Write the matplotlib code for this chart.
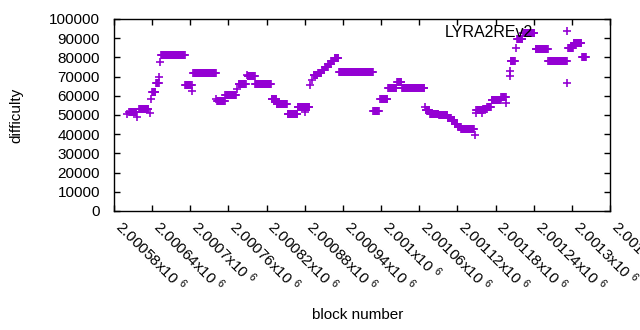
import numpy as np
import matplotlib
matplotlib.use('Agg')
import matplotlib.pyplot as plt

plt.rcParams['font.family'] = ['Liberation Sans', 'DejaVu Sans']
plt.rcParams['mathtext.fontset'] = 'custom'
plt.rcParams['mathtext.rm'] = 'Liberation Sans'
plt.rcParams['mathtext.it'] = 'Liberation Sans'

# Difficulty per block, stored as runs of equal difficulty (start block, end block, value)
run_start = [2000601, 2000604, 2000616, 2000620, 2000636, 2000638, 2000640, 2000646, 2000651, 2000653,
             2000654, 2000692, 2000703, 2000705, 2000741, 2000742, 2000755, 2000774, 2000776, 2000789,
             2000790, 2000802, 2000828, 2000836, 2000853, 2000869, 2000881, 2000889, 2000892, 2000894,
             2000901, 2000907, 2000912, 2000917, 2000922, 2000927, 2000934, 2000988, 2000999, 2001011,
             2001025, 2001033, 2001069, 2001070, 2001077, 2001091, 2001105, 2001111, 2001116, 2001121,
             2001126, 2001147, 2001149, 2001150, 2001158, 2001161, 2001167, 2001174, 2001189, 2001197,
             2001202, 2001203, 2001204, 2001212, 2001214, 2001223, 2001243, 2001263, 2001293, 2001294,
             2001303, 2001316]
run_end = [2000601, 2000615, 2000616, 2000634, 2000636, 2000638, 2000645, 2000650, 2000651, 2000653,
           2000691, 2000702, 2000703, 2000740, 2000741, 2000754, 2000772, 2000774, 2000787, 2000789,
           2000801, 2000827, 2000835, 2000852, 2000868, 2000887, 2000881, 2000889, 2000892, 2000900,
           2000906, 2000911, 2000916, 2000921, 2000926, 2000933, 2000987, 2000996, 2001010, 2001024,
           2001032, 2001068, 2001069, 2001076, 2001090, 2001104, 2001110, 2001115, 2001120, 2001125,
           2001146, 2001147, 2001149, 2001160, 2001158, 2001166, 2001173, 2001188, 2001196, 2001197,
           2001202, 2001203, 2001210, 2001212, 2001222, 2001241, 2001262, 2001292, 2001293, 2001302,
           2001315, 2001322]
run_difficulty = [50400, 51800, 49100, 53000, 50900, 58200, 62200, 66500, 69600, 77800,
                  81000, 65600, 62500, 72000, 58300, 57400, 60300, 63500, 66300, 70800,
                  70200, 66000, 58500, 55600, 50500, 54300, 51700, 65600, 68200, 71000,
                  72000, 73500, 75000, 76500, 78000, 79700, 72200, 51900, 58300, 64300,
                  67400, 63900, 54000, 52500, 50600, 50000, 48600, 47500, 45500, 43800,
                  42700, 39800, 51000, 52600, 51000, 53300, 54200, 57800, 59400, 56100,
                  70300, 73000, 78000, 84700, 89600, 92900, 84500, 78300, 66500, 84700,
                  87300, 80200]

xtick_values = [2000580, 2000640, 2000700, 2000760, 2000820, 2000880, 2000940,
                2001000, 2001060, 2001120, 2001180, 2001240, 2001300, 2001360]
xtick_text = ['2.00058', '2.00064', '2.0007', '2.00076', '2.00082', '2.00088', '2.00094',
              '2.001', '2.00106', '2.00112', '2.00118', '2.00124', '2.0013', '2.00136']
ytick_values = [0, 10000, 20000, 30000, 40000, 50000, 60000, 70000, 80000, 90000, 100000]

series_name = 'LYRA2REv2'

blocks = np.concatenate([np.arange(s, e + 1) for s, e in zip(run_start, run_end)])
diffs = np.concatenate([np.full(e - s + 1, d) for s, e, d in zip(run_start, run_end, run_difficulty)])

fig = plt.figure(figsize=(6.4, 3.3), dpi=100)
ax = fig.add_axes([114 / 640, 1 - 211 / 330, (610 - 114) / 640, (211 - 19) / 330])

ax.plot(blocks, diffs, linestyle='none', marker='+', color='#9400d3',
        markersize=5.2, markeredgewidth=1.2, label=series_name)

ax.set_xlim(2000580, 2001360)
ax.set_ylim(0, 100000)
ax.set_yticks(ytick_values)
ax.set_yticklabels([str(v) for v in ytick_values])
ax.set_xticks(xtick_values)
ax.set_xticklabels([t + 'x10 $^{6}$' for t in xtick_text])

ax.tick_params(axis='both', direction='in', length=4, width=1, color='black',
               labelsize=11, top=True, right=True)
ax.tick_params(axis='y', pad=10)
ax.tick_params(axis='x', pad=11.8)
for lab in ax.get_xticklabels():
    lab.set_rotation(-45)
    lab.set_rotation_mode('anchor')
    lab.set_ha('left')
    lab.set_va('baseline')

for sp in ax.spines.values():
    sp.set_linewidth(1)
    sp.set_color('black')

ax.set_ylabel('difficulty', fontsize=11)
ax.yaxis.set_label_coords(-(114 - 23) / 496, 0.5)
ax.set_xlabel('block number', fontsize=11)
ax.xaxis.set_label_coords((358 - 114) / 496, -(308 - 211) / 192)

ax.legend(loc='center right', bbox_to_anchor=(583 / 640, 1 - 32.5 / 330),
          bbox_transform=fig.transFigure, frameon=False, markerfirst=False,
          handlelength=2, handletextpad=1.1, borderpad=0, borderaxespad=0,
          fontsize=11.5, numpoints=1)

fig.savefig('out.png', dpi=100)
